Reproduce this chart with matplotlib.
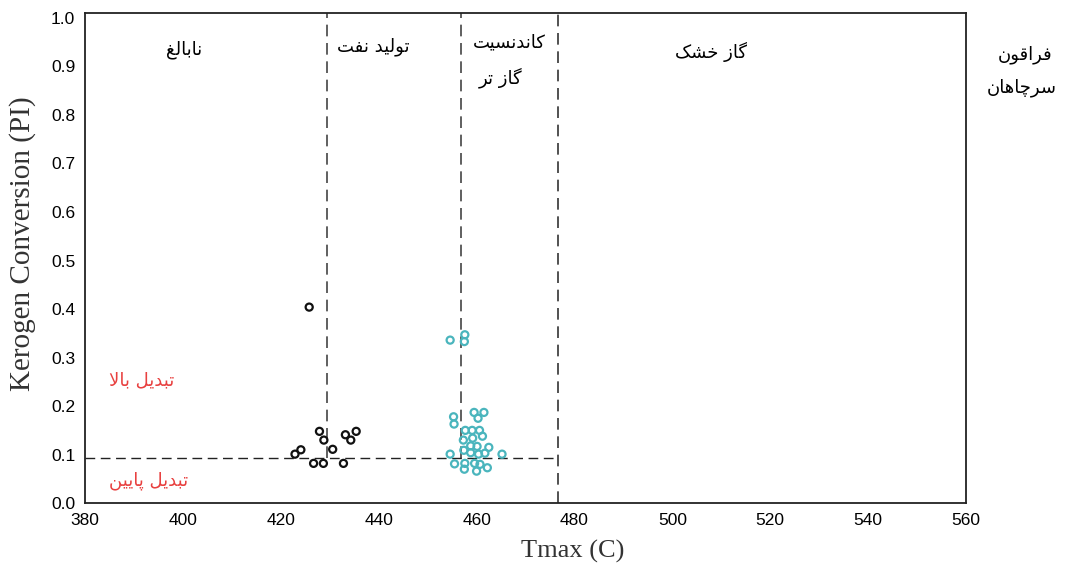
"""
Tmax vs PI (Kerogen Conversion) - zonas de maturacao
"""

import matplotlib
matplotlib.use("Agg")
import matplotlib.pyplot as plt

# --- dados ---
black_tmax = [425.8, 427.9, 428.8, 424.1, 422.9, 430.6, 433.2, 434.3, 435.4, 426.7, 428.7, 432.8]
black_pi = [0.404, 0.148, 0.130, 0.110, 0.101, 0.111, 0.141, 0.130, 0.148, 0.082, 0.082, 0.082]

cyan_tmax = [454.6, 457.6, 457.5, 459.5, 461.5, 460.3, 455.3, 455.4, 457.7, 459.1,
             460.6, 461.2, 459.2, 457.3, 458.8, 460.1, 462.5, 457.4, 458.8, 460.4,
             461.7, 454.6, 465.2, 455.5, 457.6, 459.6, 460.7, 462.2, 457.5, 460.0]
cyan_pi = [0.336, 0.347, 0.333, 0.187, 0.187, 0.175, 0.178, 0.163, 0.150, 0.150,
           0.150, 0.138, 0.134, 0.130, 0.118, 0.117, 0.115, 0.109, 0.104, 0.101,
           0.103, 0.101, 0.101, 0.081, 0.082, 0.082, 0.080, 0.073, 0.070, 0.066]

zone_limits = [429.4, 456.8, 476.7]
pi_limit = 0.093

x_ticks = [380, 400, 420, 440, 460, 480, 500, 520, 540, 560]
y_ticks = [0.0, 0.1, 0.2, 0.3, 0.4, 0.5, 0.6, 0.7, 0.8, 0.9, 1.0]

zone_labels = ["نابالغ", "تولید نفت", "کاندنسیت", "گاز تر", "گاز خشک"]
conv_labels = ["تبدیل بالا", "تبدیل پایین"]
well_labels = ["فراقون", "سرچاهان"]


# matplotlib nao faz shaping do arabe: formas de apresentacao + ordem visual
FORMS = {
    "ا": ("\uFE8D", "\uFE8E", None, None),
    "ب": ("\uFE8F", "\uFE90", "\uFE91", "\uFE92"),
    "پ": ("\uFB56", "\uFB57", "\uFB58", "\uFB59"),
    "ت": ("\uFE95", "\uFE96", "\uFE97", "\uFE98"),
    "چ": ("\uFB7A", "\uFB7B", "\uFB7C", "\uFB7D"),
    "خ": ("\uFEA5", "\uFEA6", "\uFEA7", "\uFEA8"),
    "د": ("\uFEA9", "\uFEAA", None, None),
    "ر": ("\uFEAD", "\uFEAE", None, None),
    "ز": ("\uFEAF", "\uFEB0", None, None),
    "س": ("\uFEB1", "\uFEB2", "\uFEB3", "\uFEB4"),
    "ش": ("\uFEB5", "\uFEB6", "\uFEB7", "\uFEB8"),
    "غ": ("\uFECD", "\uFECE", "\uFECF", "\uFED0"),
    "ف": ("\uFED1", "\uFED2", "\uFED3", "\uFED4"),
    "ق": ("\uFED5", "\uFED6", "\uFED7", "\uFED8"),
    "ک": ("\uFB8E", "\uFB8F", "\uFB90", "\uFB91"),
    "گ": ("\uFB92", "\uFB93", "\uFB94", "\uFB95"),
    "ل": ("\uFEDD", "\uFEDE", "\uFEDF", "\uFEE0"),
    "ن": ("\uFEE5", "\uFEE6", "\uFEE7", "\uFEE8"),
    "ه": ("\uFEE9", "\uFEEA", "\uFEEB", "\uFEEC"),
    "و": ("\uFEED", "\uFEEE", None, None),
    "ی": ("\uFBFC", "\uFBFD", "\uFBFE", "\uFBFF"),
    "لا": ("\uFEFB", "\uFEFC", None, None),
}


def shape(text):
    units = []
    i = 0
    while i < len(text):
        if text[i] == "ل" and i + 1 < len(text) and text[i + 1] == "ا":
            units.append("لا")
            i += 2
        else:
            units.append(text[i])
            i += 1
    out = []
    for k, u in enumerate(units):
        if u not in FORMS:
            out.append(u)
            continue
        prev = units[k - 1] if k > 0 else None
        nxt = units[k + 1] if k + 1 < len(units) else None
        join_prev = prev in FORMS and FORMS[prev][2] is not None
        join_next = FORMS[u][2] is not None and nxt in FORMS
        iso, fin, ini, med = FORMS[u]
        if join_prev and join_next:
            out.append(med)
        elif join_prev:
            out.append(fin)
        elif join_next:
            out.append(ini)
        else:
            out.append(iso)
    return "".join(reversed(out))


def main():
    fig = plt.figure(figsize=(10.86, 5.66), dpi=100)
    ax = fig.add_axes([0.0783, 0.111, 0.8112, 0.866])

    fa = ["DejaVu Sans"]
    fs = 13

    ax.axvline(zone_limits[0], ymin=pi_limit / 1.01, ymax=1, color="#444444",
               lw=1.2, dashes=(7, 4))
    ax.axvline(zone_limits[1], ymin=pi_limit / 1.01, ymax=1, color="#444444",
               lw=1.2, dashes=(7, 4))
    ax.axvline(zone_limits[2], ymin=0, ymax=1, color="#333333", lw=1.2, dashes=(7, 4))
    ax.plot([380, zone_limits[2]], [pi_limit, pi_limit], color="#222222", lw=1.0,
            dashes=(7, 4))

    ax.scatter(black_tmax, black_pi, s=26, facecolors="none", edgecolors="#111111",
               linewidths=1.6, zorder=3)
    ax.scatter(cyan_tmax, cyan_pi, s=26, facecolors="none", edgecolors="#4ab5bd",
               linewidths=1.6, zorder=3)

    ax.text(400.3, 0.934, shape(zone_labels[0]), family=fa, fontsize=fs, ha="center", va="center")
    ax.text(438.9, 0.940, shape(zone_labels[1]), family=fa, fontsize=fs, ha="center", va="center")
    ax.text(466.6, 0.949, shape(zone_labels[2]), family=fa, fontsize=fs, ha="center", va="center")
    ax.text(465.0, 0.877, shape(zone_labels[3]), family=fa, fontsize=fs, ha="center", va="center")
    ax.text(508.0, 0.930, shape(zone_labels[4]), family=fa, fontsize=fs, ha="center", va="center")

    ax.text(391.5, 0.253, shape(conv_labels[0]), family=fa, fontsize=fs, color="#e8403f",
            ha="center", va="center")
    ax.text(393.0, 0.047, shape(conv_labels[1]), family=fa, fontsize=fs, color="#e8403f",
            ha="center", va="center")

    fig.text(0.944, 0.903, shape(well_labels[0]), family=fa, fontsize=fs, ha="center", va="center")
    fig.text(0.941, 0.845, shape(well_labels[1]), family=fa, fontsize=fs, ha="center", va="center")

    ax.set_xlim(380, 560)
    ax.set_ylim(0, 1.01)
    ax.set_xticks(x_ticks)
    ax.set_yticks(y_ticks)
    ax.set_yticklabels([f"{v:.1f}" for v in y_ticks])
    ax.tick_params(length=0, labelsize=12.5, pad=7)
    for lab in ax.get_xticklabels() + ax.get_yticklabels():
        lab.set_family("Liberation Sans")

    for side in ["top", "right", "left", "bottom"]:
        ax.spines[side].set_color("#222222")
        ax.spines[side].set_linewidth(1.3)

    ax.set_xlabel("Tmax (C)", family="Liberation Serif", fontsize=19, color="#333333")
    ax.set_ylabel("Kerogen Conversion (PI)", family="Liberation Serif", fontsize=21,
                  color="#333333")
    ax.xaxis.set_label_coords(0.553, -0.075)
    ax.yaxis.set_label_coords(-0.056, 0.53)

    fig.savefig("out.png", dpi=100)


if __name__ == "__main__":
    main()
